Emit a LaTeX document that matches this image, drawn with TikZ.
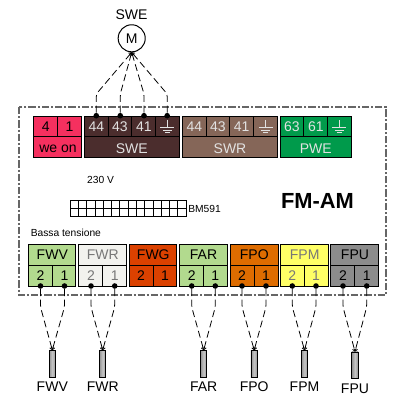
\documentclass[tikz,border=0pt]{standalone}
\usepackage{fontspec}
\usetikzlibrary{arrows.meta}
\setmainfont{Liberation Sans}
\definecolor{cweon}{HTML}{F5305F}
\definecolor{cswe}{HTML}{4B2D2D}
\definecolor{cswr}{HTML}{856658}
\definecolor{cpwe}{HTML}{009A4B}
\definecolor{cgreen}{HTML}{B2DA8E}
\definecolor{cfwr}{HTML}{F2F2EE}
\definecolor{cfwg}{HTML}{DB4100}
\definecolor{cfpo}{HTML}{DE6C00}
\definecolor{cfpm}{HTML}{FFFF66}
\definecolor{cfpu}{HTML}{8C8C8C}
\definecolor{ltxt}{HTML}{E2E2E2}
\definecolor{gtxt}{HTML}{777777}
\tikzset{
 lbl/.style={font=\fontsize{10.5pt}{12pt}\selectfont,inner sep=0},
 small/.style={font=\fontsize{7.7pt}{9pt}\selectfont,inner sep=0},
 wire/.style={draw=black,line width=0.6pt,dash pattern=on 5.2pt off 2.8pt,rounded corners=2pt,-{To[length=2.2pt,width=3.2pt]}},
 frame/.style={draw=black!60,line width=0.8pt,dash pattern=on 5.5pt off 1.5pt on 1.5pt off 1.5pt},
 pin/.style={circle,fill=black,inner sep=0,minimum size=4.2pt},
 sensor/.style={draw=black,line width=0.6pt,left color=gray!85,right color=gray!85,middle color=gray!45,inner sep=0,minimum width=4.8pt,minimum height=20pt},
}
\newcommand{\filledbox}[6]{\filldraw[fill=#6,draw=black,line width=0.75pt] (#1,#3) rectangle (#2,#5); \draw[line width=0.75pt] (#1,#4) -- (#2,#4);}
\newcommand{\earthmark}[3]{\draw[#3,line width=0.6pt] (#1,#2-7) -- (#1,#2) (#1-7,#2) -- (#1+7,#2) (#1-4.5,#2+3) -- (#1+4.5,#2+3) (#1-2.5,#2+5.7) -- (#1+2.5,#2+5.7);}
\begin{document}
\begin{tikzpicture}[x=0.75pt,y=-0.75pt]
\useasboundingbox (0,0) rectangle (398,405);
\fill[white] (0,0) rectangle (398,405);
% frame
\draw[frame] (19,107) rectangle (386,295);
% top blocks
\filledbox{34}{81.5}{116}{136.5}{157}{cweon}
\draw[line width=0.75pt] (57.7,116) -- (57.7,136.5);
\node[lbl] (t4) at (45.8,126.5) {4};
\node[lbl] (t1) at (69.6,126.5) {1};
\node[lbl] (tweon) at (58,149) {we on};
\filledbox{84.5}{179.5}{116}{136.5}{157}{cswe}
\foreach \x in {108.5,132,155.5} \draw[line width=0.75pt] (\x,116) -- (\x,136.5);
\node[lbl,text=ltxt] (a44) at (96.3,126.5) {44};
\node[lbl,text=ltxt] (a43) at (120,126.5) {43};
\node[lbl,text=ltxt] (a41) at (144,126.5) {41};
\earthmark{167.3}{127}{ltxt}
\node[lbl,text=ltxt] (tswe) at (131.7,148.5) {SWE};
\filledbox{182.5}{278}{116}{136.5}{157}{cswr}
\foreach \x in {206.3,229.7,253.7} \draw[line width=0.75pt] (\x,116) -- (\x,136.5);
\node[lbl,text=ltxt] (b44) at (194.5,126.5) {44};
\node[lbl,text=ltxt] (b43) at (218,126.5) {43};
\node[lbl,text=ltxt] (b41) at (241.7,126.5) {41};
\earthmark{265.8}{127}{ltxt}
\node[lbl,text=ltxt] (tswr) at (230,148.5) {SWR};
\filledbox{280.3}{351.3}{116}{136.5}{157}{cpwe}
\foreach \x in {304,327.7} \draw[line width=0.75pt] (\x,116) -- (\x,136.5);
\node[lbl,text=ltxt] (p63) at (292,126.5) {63};
\node[lbl,text=ltxt] (p61) at (315.8,126.5) {61};
\earthmark{339.5}{127}{ltxt}
\node[lbl,text=ltxt] (tpwe) at (315.8,148.5) {PWE};
% motor
\node[lbl] (mlabel) at (131.5,15) {SWE};
\node[draw=black,line width=0.75pt,circle,minimum size=20.3pt,inner sep=0,font=\fontsize{10.5pt}{12pt}\selectfont] (motor) at (131.7,38.3) {M};
\foreach \n/\x in {d1/96.3,d2/120.3,d3/144,d4/167.2} {
 \node[pin] (\n) at (\x,115.7) {};
 \coordinate (\n b) at (\x,94);
 \draw[wire] (\n) -- (\n b) -- (motor.south);
}
% texts
\node[small] (v230) at (100.5,180) {230 V};
\node[small,anchor=west] (bass) at (30.5,232.5) {Bassa tensione};
\node[small,anchor=west] (bm) at (188,208.5) {BM591};
\node[font=\bfseries\fontsize{16.4pt}{18pt}\selectfont,inner sep=0] (fmam) at (317.5,201) {FM-AM};
% grid
\draw[line width=0.6pt] (70.3,200) rectangle (186,216) (70.3,208) -- (186,208);
\foreach \i in {1,...,13} \draw[line width=0.6pt] ({70.3+\i*115.7/14},200) -- ({70.3+\i*115.7/14},216);
% lower blocks
\foreach \xa/\xb/\xm/\c/\tc/\name/\xl/\xr in {
 28.5/76/52.3/cgreen/black/FWV/40.5/64.5,
 79/126.7/102.7/cfwr/gtxt/FWR/91/114.7,
 129.3/176.7/153.3/cfwg/black/FWG/141/165,
 179.7/227.3/203.5/cgreen/black/FAR/191.7/215.3,
 230.3/278.3/254.3/cfpo/black/FPO/242/266,
 280.3/328.3/304.7/cfpm/gtxt/FPM/292.3/316,
 331/378.7/355/cfpu/black/FPU/343/366.7} {
 \filledbox{\xa}{\xb}{244.3}{265.7}{286}{\c}
 \draw[line width=0.75pt] (\xm,265.7) -- (\xm,286);
 \node[lbl,text=\tc] (n\name) at (\xm,254.8) {\name};
 \node[lbl,text=\tc] (n\name 2) at (\xl,275.5) {2};
 \node[lbl,text=\tc] (n\name 1) at (\xr,275.5) {1};
}
% sensors
\foreach \name/\xl/\xr/\xc/\yt/\yl in {
 FWV/40.5/64.5/52.3/350/387,
 FWR/91/114.7/102.7/350/387,
 FAR/191.7/215.3/203.7/350/387,
 FPO/242/266/254.2/350/387,
 FPM/292.3/316/304.5/350/387,
 FPU/343/366.7/355/351.5/388.5} {
 \node[pin] (pl\name) at (\xl,286) {};
 \node[pin] (pr\name) at (\xr,286) {};
 \coordinate (bl\name) at (\xl,307);
 \coordinate (br\name) at (\xr,307);
 \node[sensor,anchor=north] (s\name) at (\xc,\yt) {};
 \draw[wire] (pl\name) -- (bl\name) -- (s\name.north);
 \draw[wire] (pr\name) -- (br\name) -- (s\name.north);
 \node[lbl] (l\name) at (\xc,\yl) {\name};
}
\end{tikzpicture}
\end{document}
